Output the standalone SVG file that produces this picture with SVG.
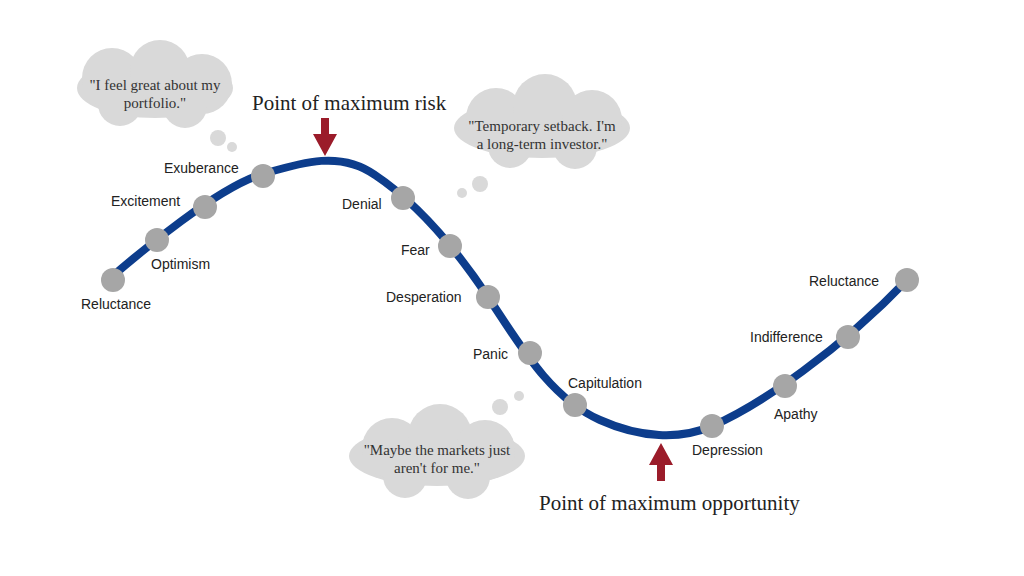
<svg xmlns="http://www.w3.org/2000/svg" width="1024" height="576" viewBox="0 0 1024 576">
<style>
.c{fill:#d9d9d9}
.n{fill:#a6a6a6}
.l{font-family:"Liberation Sans",Arial,sans-serif;font-size:14px;fill:#222}
.q{font-family:"Liberation Serif","Times New Roman",serif;font-size:15px;fill:#333;text-anchor:middle}
.h{font-family:"Liberation Serif","Times New Roman",serif;font-size:21px;fill:#222}
.a{fill:#9b1c2a}
</style>
<rect width="1024" height="576" fill="#fff"/>
<g id="cloud1">
<ellipse class="c" cx="155" cy="88" rx="78" ry="30"/>
<circle class="c" cx="112" cy="78" r="30"/><circle class="c" cx="160" cy="70" r="30"/><circle class="c" cx="202" cy="84" r="30"/>
<circle class="c" cx="120" cy="104" r="22"/><circle class="c" cx="185" cy="106" r="22"/>
<circle class="c" cx="218" cy="138" r="8"/><circle class="c" cx="232" cy="147" r="5"/>
<text class="q" x="155" y="90">"I feel great about my</text><text class="q" x="155" y="108">portfolio."</text>
</g>
<g id="cloud2">
<ellipse class="c" cx="542" cy="128" rx="88" ry="30"/>
<circle class="c" cx="496" cy="118" r="30"/><circle class="c" cx="545" cy="106" r="32"/><circle class="c" cx="592" cy="120" r="30"/>
<circle class="c" cx="510" cy="146" r="22"/><circle class="c" cx="575" cy="147" r="22"/>
<circle class="c" cx="480" cy="184" r="8"/><circle class="c" cx="462" cy="193" r="5"/>
<text class="q" x="542" y="131">"Temporary setback. I'm</text><text class="q" x="542" y="149">a long-term investor."</text>
</g>
<g id="cloud3">
<ellipse class="c" cx="437" cy="456" rx="88" ry="30"/>
<circle class="c" cx="392" cy="448" r="30"/><circle class="c" cx="440" cy="436" r="32"/><circle class="c" cx="485" cy="450" r="30"/>
<circle class="c" cx="405" cy="476" r="22"/><circle class="c" cx="468" cy="477" r="22"/>
<circle class="c" cx="500" cy="407" r="8"/><circle class="c" cx="519" cy="396" r="5"/>
<text class="q" x="437" y="455">"Maybe the markets just</text><text class="q" x="437" y="473">aren't for me."</text>
</g>
<g id="connectors">
<path d="M107,281 C140,252 220,186 263,174 C300,163 340,150 375,175 C420,205 460,255 488,297 C520,345 550,398 600,420 C640,438 680,440 712,426 C760,405 840,350 907,280" fill="none" stroke="#0d3d8c" stroke-width="8" stroke-linecap="round"/>
<path class="a" d="M321,118 h8 v16 h8 l-12,22 l-12,-22 h8z"/>
<path class="a" d="M657,481 h8 v-16 h8 l-12,-22 l-12,22 h8z"/>
</g>
<text class="h" x="252" y="110">Point of maximum risk</text>
<text class="h" x="539" y="510">Point of maximum opportunity</text>
<g id="nodes">
<g id="n1"><circle class="n" cx="113" cy="280" r="12"/><text class="l" x="81" y="309">Reluctance</text></g>
<g id="n2"><circle class="n" cx="157" cy="240" r="12"/><text class="l" x="151" y="269">Optimism</text></g>
<g id="n3"><circle class="n" cx="205" cy="207" r="12"/><text class="l" x="111" y="206">Excitement</text></g>
<g id="n4"><circle class="n" cx="263" cy="176" r="12"/><text class="l" x="164" y="173">Exuberance</text></g>
<g id="n5"><circle class="n" cx="403" cy="198" r="12"/><text class="l" x="342" y="209">Denial</text></g>
<g id="n6"><circle class="n" cx="450" cy="246" r="12"/><text class="l" x="401" y="255">Fear</text></g>
<g id="n7"><circle class="n" cx="488" cy="297" r="12"/><text class="l" x="386" y="302">Desperation</text></g>
<g id="n8"><circle class="n" cx="530" cy="353" r="12"/><text class="l" x="473" y="359">Panic</text></g>
<g id="n9"><circle class="n" cx="575" cy="405" r="12"/><text class="l" x="568" y="388">Capitulation</text></g>
<g id="n10"><circle class="n" cx="712" cy="426" r="12"/><text class="l" x="692" y="455">Depression</text></g>
<g id="n11"><circle class="n" cx="785" cy="386" r="12"/><text class="l" x="774" y="419">Apathy</text></g>
<g id="n12"><circle class="n" cx="848" cy="337" r="12"/><text class="l" x="750" y="342">Indifference</text></g>
<g id="n13"><circle class="n" cx="907" cy="280" r="12"/><text class="l" x="809" y="286">Reluctance</text></g>
</g>
</svg>
